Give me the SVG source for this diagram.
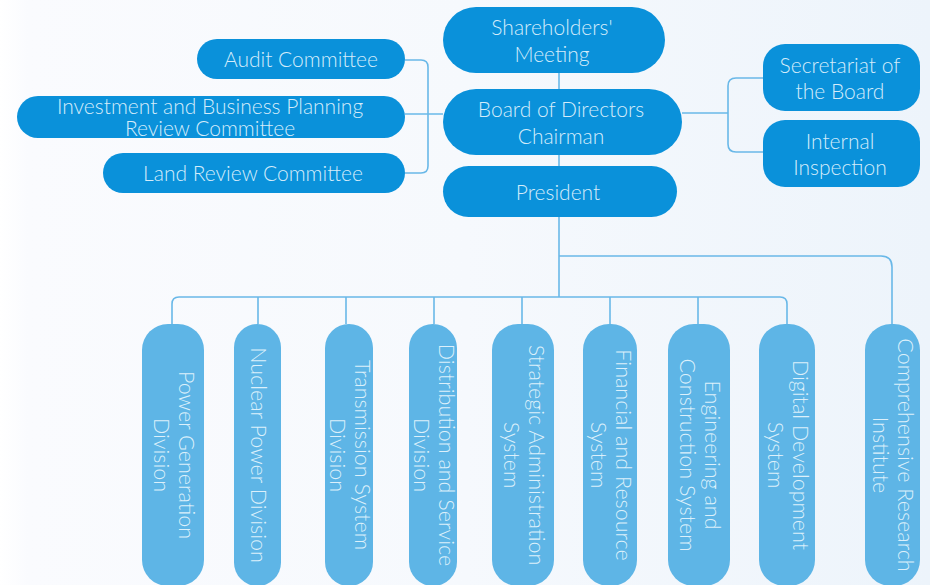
<svg xmlns="http://www.w3.org/2000/svg" width="930" height="585" viewBox="0 0 930 585">
  <defs>
    <linearGradient id="bg" x1="0" y1="0" x2="1" y2="0">
      <stop offset="0" stop-color="#ffffff"/>
      <stop offset="0.03" stop-color="#fafbfe"/>
      <stop offset="0.5" stop-color="#f6f9fd"/>
      <stop offset="1" stop-color="#edf4fb"/>
    </linearGradient>
    <style>
      .top rect { fill: #0a91da; }
      .sub rect { fill: #5eb5e6; }
      text { font-family: Lato, "Open Sans", "Liberation Sans", sans-serif; font-weight: 300; font-size: 21px; fill: #d4ecfa; text-anchor: middle; }
      .sub text { fill: #dcf0fb; font-size: 21.5px; }
      #connectors path { fill: none; stroke: #69b8e8; stroke-width: 1.6; }
    </style>
  </defs>

  <rect width="930" height="585" fill="url(#bg)"/>

  <g id="connectors">
    <path d="M559,73 V89"/>
    <path d="M559,155 V166"/>
    <path d="M559,217 V297"/>
    <path d="M405,60 H421 Q428,60 428,67 V166 Q428,173 421,173 H405"/>
    <path d="M405,114 H443"/>
    <path d="M682,113 H728"/>
    <path d="M763,78 H736 Q728,78 728,86 V144 Q728,152 736,152 H763"/>
    <path d="M172,324 V304 Q172,297 179,297 H780 Q787,297 787,304 V324"/>
    <path d="M258,297 V324 M346,297 V324 M434,297 V324 M522,297 V324 M610,297 V324 M698,297 V324"/>
    <path d="M559,256 H881 Q892,256 892,267 V324"/>
  </g>

  <g id="shareholders" class="top">
    <rect x="443" y="7" width="222" height="66" rx="33"/>
    <text x="552" y="35">Shareholders'</text>
    <text x="552" y="62">Meeting</text>
  </g>
  <g id="board" class="top">
    <rect x="443" y="89" width="239" height="66" rx="33"/>
    <text x="561" y="117">Board of Directors</text>
    <text x="561" y="144">Chairman</text>
  </g>
  <g id="president" class="top">
    <rect x="443" y="166" width="234" height="51" rx="25.5"/>
    <text x="558" y="200">President</text>
  </g>
  <g id="audit" class="top">
    <rect x="197" y="39" width="208" height="40" rx="20"/>
    <text x="301" y="67">Audit Committee</text>
  </g>
  <g id="investment" class="top">
    <rect x="17" y="96" width="388" height="42" rx="21"/>
    <text x="210" y="114">Investment and Business Planning</text>
    <text x="210" y="136">Review Committee</text>
  </g>
  <g id="land" class="top">
    <rect x="103" y="153" width="302" height="40" rx="20"/>
    <text x="253" y="181">Land Review Committee</text>
  </g>
  <g id="secretariat" class="top">
    <rect x="763" y="44" width="157" height="67" rx="22"/>
    <text x="840" y="73">Secretariat of</text>
    <text x="840" y="99">the Board</text>
  </g>
  <g id="inspection" class="top">
    <rect x="763" y="120" width="157" height="67" rx="22"/>
    <text x="840" y="149">Internal</text>
    <text x="840" y="175">Inspection</text>
  </g>

  <g id="power-generation" class="sub">
    <rect x="142" y="324" width="62" height="262" rx="26"/>
    <g transform="translate(173,455) rotate(90)">
      <text y="-5.5">Power Generation</text>
      <text y="19.5">Division</text>
    </g>
  </g>
  <g id="nuclear" class="sub">
    <rect x="234" y="324" width="47" height="262" rx="23.5"/>
    <g transform="translate(257.5,455) rotate(90)">
      <text y="7">Nuclear Power Division</text>
    </g>
  </g>
  <g id="transmission" class="sub">
    <rect x="325" y="324" width="48" height="262" rx="24"/>
    <g transform="translate(349,455) rotate(90)">
      <text y="-5.5">Transmission System</text>
      <text y="19.5">Division</text>
    </g>
  </g>
  <g id="distribution" class="sub">
    <rect x="409" y="324" width="48" height="262" rx="24"/>
    <g transform="translate(433,455) rotate(90)">
      <text y="-5.5">Distribution and Service</text>
      <text y="19.5">Division</text>
    </g>
  </g>
  <g id="strategic" class="sub">
    <rect x="492" y="324" width="62" height="262" rx="26"/>
    <g transform="translate(523,455) rotate(90)">
      <text y="-5.5">Strategic Administration</text>
      <text y="19.5">System</text>
    </g>
  </g>
  <g id="financial" class="sub">
    <rect x="583" y="324" width="54" height="262" rx="26"/>
    <g transform="translate(610,455) rotate(90)">
      <text y="-5.5">Financial and Resource</text>
      <text y="19.5">System</text>
    </g>
  </g>
  <g id="engineering" class="sub">
    <rect x="668" y="324" width="62" height="262" rx="26"/>
    <g transform="translate(699,455) rotate(90)">
      <text y="-5.5">Engineering and</text>
      <text y="19.5">Construction System</text>
    </g>
  </g>
  <g id="digital" class="sub">
    <rect x="759" y="324" width="56" height="262" rx="26"/>
    <g transform="translate(787,455) rotate(90)">
      <text y="-5.5">Digital Development</text>
      <text y="19.5">System</text>
    </g>
  </g>
  <g id="research" class="sub">
    <rect x="865" y="324" width="55" height="262" rx="26"/>
    <g transform="translate(892.5,455) rotate(90)">
      <text y="-5.5">Comprehensive Research</text>
      <text y="19.5">Institute</text>
    </g>
  </g>
</svg>
